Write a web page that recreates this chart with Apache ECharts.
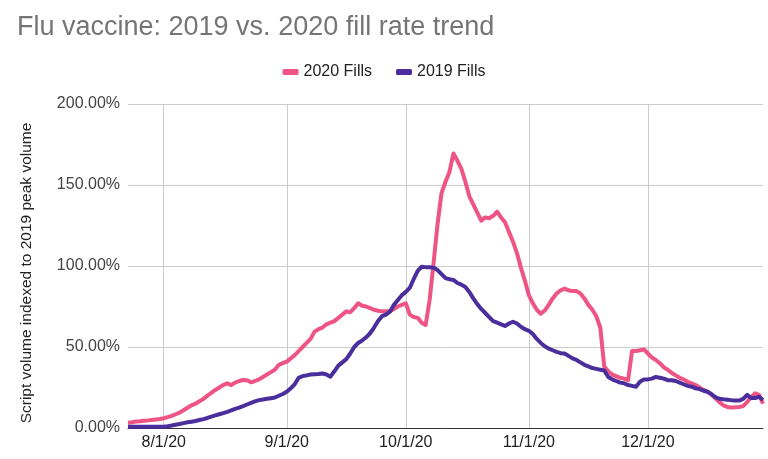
<!DOCTYPE html>
<html>
<head>
<meta charset="utf-8">
<script src="https://cdn.jsdelivr.net/npm/echarts@6/dist/echarts.min.js"></script>
<style>
html,body{margin:0;padding:0;background:#fff;}
#chart{width:768px;height:459px;}
</style>
</head>
<body>
<div id="chart"></div>
<script>
// Daily series, first day 2020-07-23, values in % of 2019 peak volume
const startDate = [2020, 7, 23];
const fills2020 = [
3.3,3.6,4,4.2,4.5,4.7,5,5.3,5.6,6,6.7,7.5,8.5,9.5,11,12.5,14,15,16.5,18,
20,21.7,23.5,25,26.5,27.6,26.5,28,29,29.6,29.5,28.2,29,30,31.5,33,34.5,36,39,40,
41,43,45,47.5,50,52.5,55,59.5,61,62,64,65,66,68,70,72,71.5,74,77,75.5,
75,74,73,72.4,72,72,72,73.5,75,76,77,70,68.5,68,65,63.6,79,102,126,145,
152,158,169.5,165,160,152,143,138,133,128,130,129.5,131,133.5,130,127,121,115,108,99,
91,82,77,73,70.5,72.5,76,80,83,85,86,85,84.5,84.5,83,80,76,73,69,62,
38,35,33,32,31,30.5,29.5,47.5,47.5,48,48.5,46,43.5,42,40,37.5,36,34,32.5,31,
30,28.5,27.5,26.5,25,23.5,22.5,20.5,18.3,16,14,13,12.7,12.8,13,13.5,16,19,21.4,20.5,
15
];
const fills2019 = [
0.8,0.8,0.8,0.8,0.8,0.8,0.8,0.8,0.8,0.8,1.1,1.5,2,2.5,3,3.5,3.9,4.3,4.9,5.5,
6.2,7,7.8,8.5,9.2,10,10.9,11.8,12.6,13.5,14.5,15.5,16.4,17.2,17.6,18,18.4,18.8,19.9,21,
22.4,24.5,27,31,32,32.5,33,33.2,33.3,33.7,33,31.7,35,38.5,40.5,42.5,46,50,52.5,54,
56,58.5,62,66,69,70,71.8,76,79,82,84,86.5,92,97,99.6,99.3,99.2,99,97.5,95,
92.5,91.8,91.4,89.5,88.5,87,84,80,76.5,73.5,71,68.5,66,65,64,63,64.5,65.6,64.5,62.5,
61,60,58,55,52.5,50.5,49,48,47,46.2,46,44.5,43,42,40.5,39,38,37,36.5,36,
35.5,31.5,30,29,28,27.6,26.5,26,25.5,28.5,30,30,30.5,31.5,31,30.5,29.5,29.5,29,28,
27,26,25.5,24.5,24,23,22.4,21,19,18,17.7,17.5,17.2,17,16.9,18,20.4,18.5,18.5,19.3,
17.3
];
const yTicks = [0, 50, 100, 150, 200];
const seriesNames = ['2020 Fills', '2019 Fills'];

const dates = [];
{
  const d0 = new Date(startDate[0], startDate[1] - 1, startDate[2]);
  for (let i = 0; i < fills2020.length; i++) {
    const d = new Date(d0.getFullYear(), d0.getMonth(), d0.getDate() + i);
    dates.push((d.getMonth() + 1) + '/' + d.getDate() + '/' + String(d.getFullYear()).slice(2));
  }
}
const isMonthStart = (idx, val) => /^\d+\/1\/\d+$/.test(val);

const FONT = '"Liberation Sans", Arial, sans-serif';
const chart = echarts.init(document.getElementById('chart'));
chart.setOption({
  animation: false,
  textStyle: { fontFamily: FONT },
  title: {
    text: 'Flu vaccine: 2019 vs. 2020 fill rate trend',
    left: 12, top: 9,
    textStyle: { fontFamily: FONT, fontSize: 27, fontWeight: 'normal', color: '#757575' }
  },
  legend: {
    data: seriesNames,
    top: 59, left: 'center',
    icon: 'roundRect', itemWidth: 16, itemHeight: 6, itemGap: 24,
    textStyle: { fontFamily: FONT, fontSize: 16, color: '#222' }
  },
  grid: { left: 128, right: 5, top: 104, bottom: 31, containLabel: false },
  xAxis: {
    type: 'category',
    data: dates,
    boundaryGap: false,
    axisLine: { lineStyle: { color: '#333', width: 1 } },
    axisTick: { show: false },
    axisLabel: { interval: isMonthStart, fontFamily: FONT, fontSize: 16, color: '#222', margin: 7 },
    splitLine: { show: true, interval: isMonthStart, lineStyle: { color: '#ccc', width: 1 } }
  },
  yAxis: {
    type: 'value',
    min: yTicks[0], max: yTicks[yTicks.length - 1], interval: yTicks[1] - yTicks[0],
    name: 'Script volume indexed to 2019 peak volume',
    nameLocation: 'middle', nameGap: 93, nameRotate: 90,
    nameTextStyle: { fontFamily: FONT, fontSize: 15.5, color: '#222', padding: [0, 14, 0, 0] },
    axisLine: { show: false }, axisTick: { show: false },
    axisLabel: { formatter: v => v.toFixed(2) + '%', fontFamily: FONT, fontSize: 16, color: '#444', margin: 8 },
    splitLine: { lineStyle: { color: '#ccc', width: 1 } }
  },
  series: [
    { name: seriesNames[0], type: 'line', data: fills2020, showSymbol: false, symbol: 'none',
      itemStyle: { color: '#EE5484' }, lineStyle: { color: '#EE5484', width: 4, join: 'round' } },
    { name: seriesNames[1], type: 'line', data: fills2019, showSymbol: false, symbol: 'none',
      itemStyle: { color: '#4A2E9C' }, lineStyle: { color: '#4A2E9C', width: 4, join: 'round' } }
  ]
});
</script>
</body>
</html>
